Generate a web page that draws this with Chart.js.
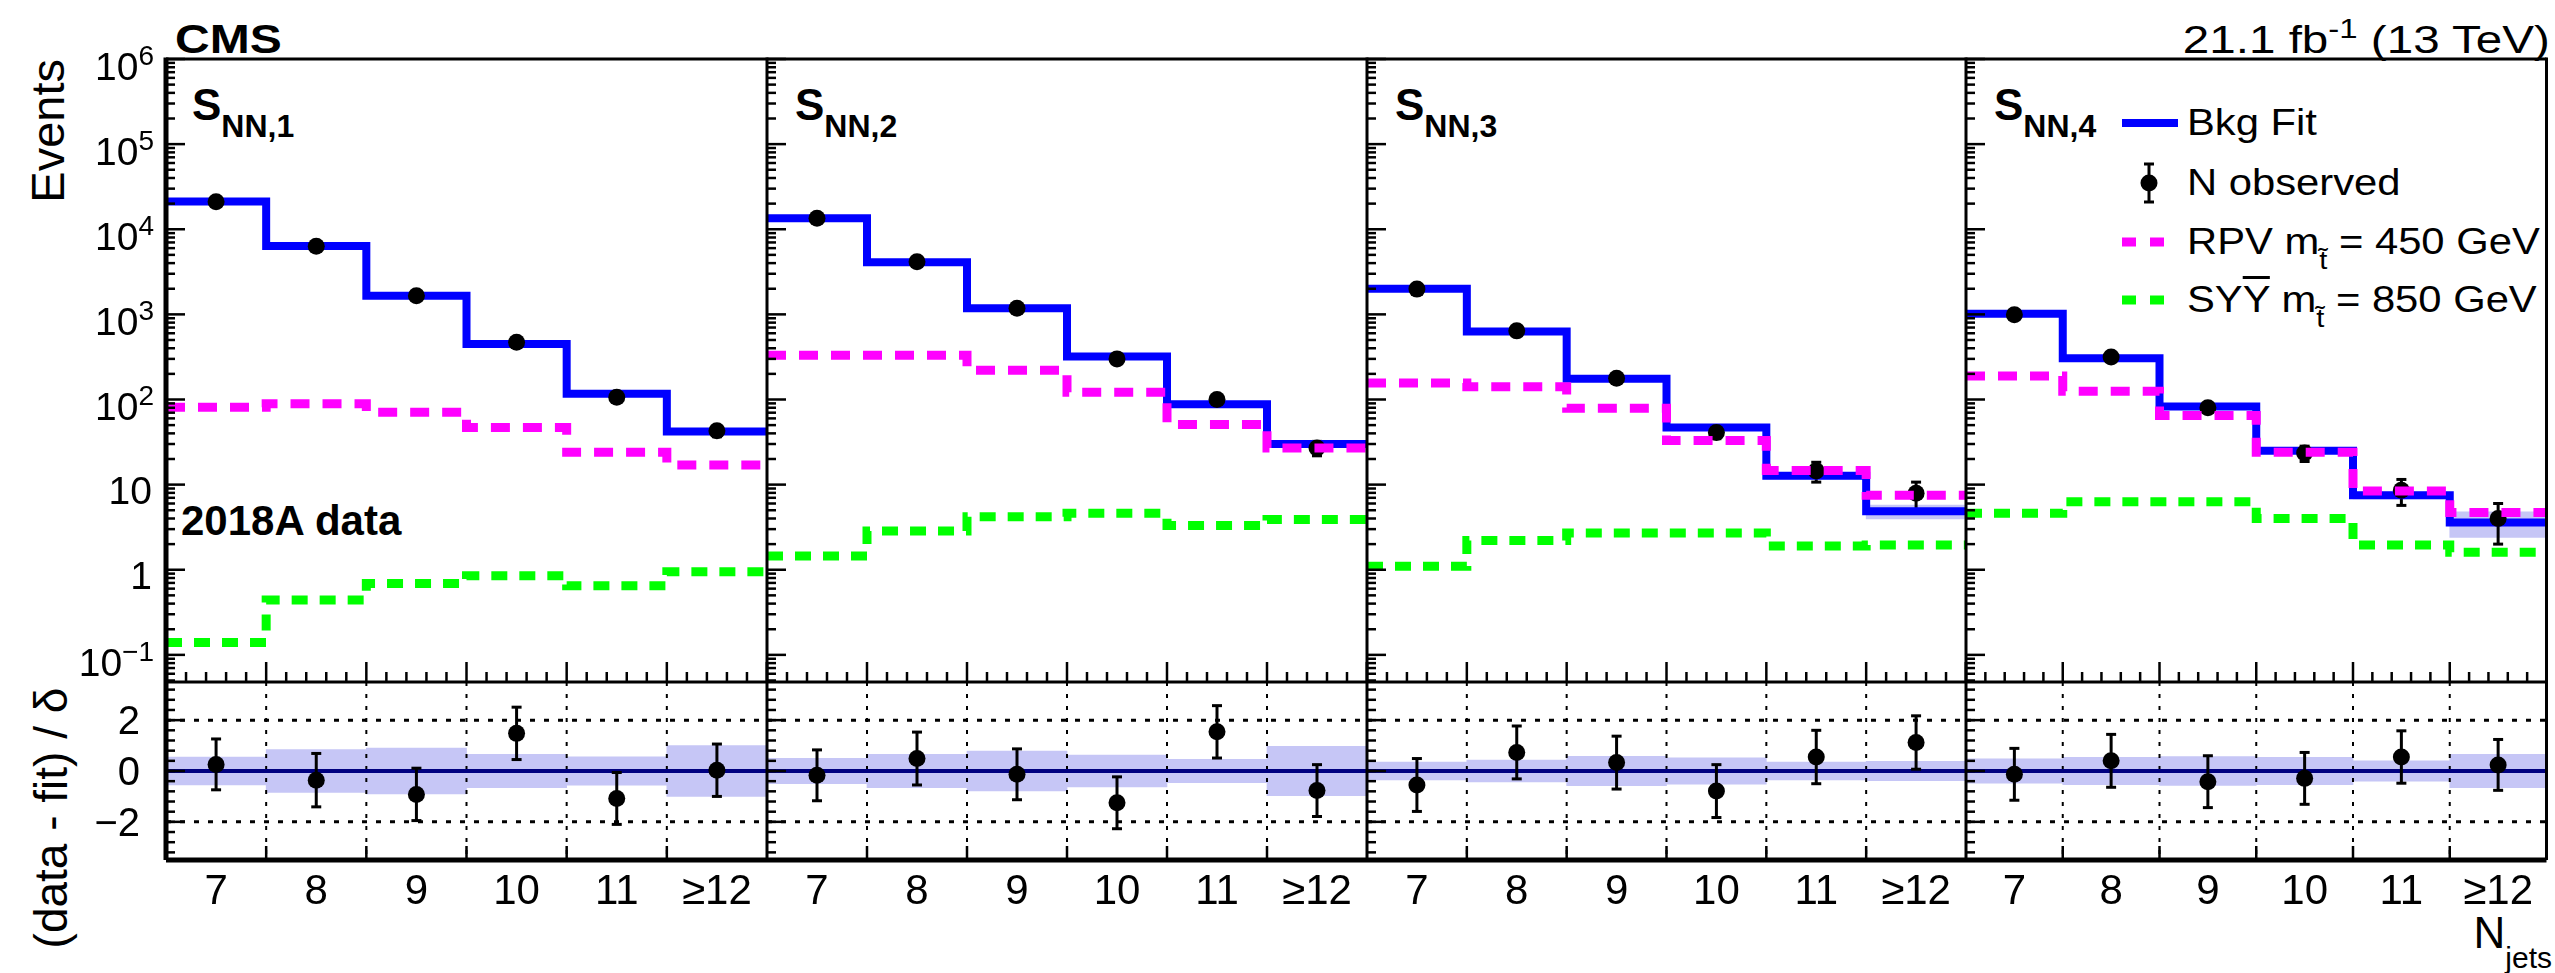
<!DOCTYPE html>
<html>
<head>
<meta charset="utf-8">
<title>S_NN fit, N_jets</title>
<script src="https://cdn.jsdelivr.net/npm/chart.js@4.4.1/dist/chart.umd.min.js"></script>
<style>
    body {
        margin: 0;
        width: 2555px;
        height: 973px;
        overflow: hidden;
        position: relative;
        background: #fff;
        font-family: "Liberation Sans", Arial, Helvetica, sans-serif;
        color: #000;
    }
    canvas { position: absolute; left: 0; top: 0; }
    .t { position: absolute; white-space: nowrap; line-height: 1; }
    .b { font-weight: bold; }
    .sub { position: relative; }
    .rot { transform-origin: 0 0; }
    .wide { transform: scaleX(1.2); transform-origin: 0 0; }
    .legend { transform: scaleX(1.16); transform-origin: 0 0; }
    .wide-r { transform: scaleX(1.22); transform-origin: 100% 0; }
</style>
</head>
<body>

<div class="t b wide" style="left:175px; top:19px; font-size:40px;">CMS</div>
<div class="t wide-r" style="right:5px; top:20px; font-size:39px;">21.1 fb<span class="sub" style="font-size:27px; top:-15px;">-1</span> (13 TeV)</div>

<div class="t b" style="left:192px; top:83px; font-size:44px;">S<span class="sub" style="font-size:32px; top:17px;">NN,1</span></div>
<div class="t b" style="left:795px; top:83px; font-size:44px;">S<span class="sub" style="font-size:32px; top:17px;">NN,2</span></div>
<div class="t b" style="left:1395px; top:83px; font-size:44px;">S<span class="sub" style="font-size:32px; top:17px;">NN,3</span></div>
<div class="t b" style="left:1994px; top:83px; font-size:44px;">S<span class="sub" style="font-size:32px; top:17px;">NN,4</span></div>

<div class="t b" style="left:181px; top:500px; font-size:42px;">2018A data</div>

<div class="t legend" style="left:2187px; top:105px; font-size:36px;">Bkg Fit</div>
<div class="t legend" style="left:2187px; top:165px; font-size:36px;">N observed</div>
<div class="t legend" style="left:2187px; top:224px; font-size:36px;">RPV m<span class="sub" style="font-size:25px; top:15px;">t&#771;</span> = 450 GeV</div>
<div class="t legend" style="left:2187px; top:282px; font-size:36px;">SY<span style="text-decoration:overline;">Y</span> m<span class="sub" style="font-size:25px; top:15px;">t&#771;</span> = 850 GeV</div>

<div class="t rot" style="left:24px; top:59px; font-size:47px; transform: rotate(-90deg) translateX(-100%);">Events</div>
<div class="t rot" style="left:28px; top:818px; font-size:46px; transform: rotate(-90deg) translateX(-50%);">(data - fit) / &delta;</div>

<div class="t" style="right:3px; top:911px; font-size:44px;">N<span class="sub" style="font-size:30px; top:20px;">jets</span></div>

<script>
// ---- data ----
const nJetLabels = ['7', '8', '9', '10', '11', '≥12'];
const binCenters = [7, 8, 9, 10, 11, 12];
const yTickExp = [-1, 0, 1, 2, 3, 4, 5, 6];
const ratioTicks = [2, 0, -2];

// S_NN,1
const fit1 = [21200, 6350, 1650, 450, 117, 42];
const fitErr1 = [300, 120, 45, 15, 5, 3];
const obs1 = [21000, 6300, 1650, 470, 106, 43];
const obsErr1 = [145, 80, 41, 22, 10, 6.5];
const rpv1 = [81, 89, 71, 47, 24, 17];
const syy1 = [0.14, 0.44, 0.69, 0.85, 0.65, 0.95];
const pull1 = [0.26, -0.36, -0.92, 1.48, -1.08, 0.03];
const pullErr1 = [1.0, 1.05, 1.03, 1.03, 1.02, 1.03];
const band1 = [0.55, 0.84, 0.9, 0.66, 0.56, 1.0];

// S_NN,2
const fit2 = [13500, 4100, 1180, 320, 88, 30];
const fitErr2 = [200, 80, 30, 10, 3.5, 2];
const obs2 = [13500, 4150, 1180, 300, 100, 27];
const obsErr2 = [116, 64, 34, 17, 10, 5.2];
const rpv2 = [330, 330, 220, 122, 51, 27];
const syy2 = [1.45, 2.85, 4.2, 4.6, 3.3, 3.9];
const pull2 = [-0.17, 0.49, -0.13, -1.25, 1.54, -0.77];
const pullErr2 = [1.0, 1.04, 1.0, 1.02, 1.03, 1.02];
const band2 = [0.5, 0.66, 0.78, 0.63, 0.46, 0.97];

// S_NN,3
const fit3 = [2000, 630, 175, 47, 12.7, 4.85];
const fitErr3 = [40, 15, 6, 2.5, 1, 0.9];
const obs3 = [1980, 640, 178, 41, 14.5, 7.9];
const obsErr3 = [45, 25, 13, 6.4, 3.8, 2.8];
const rpv3 = [156, 141, 79, 33, 14.7, 7.5];
const syy3 = [1.1, 2.2, 2.7, 2.7, 1.9, 1.95];
const pull3 = [-0.55, 0.73, 0.33, -0.79, 0.55, 1.12];
const pullErr3 = [1.04, 1.04, 1.04, 1.04, 1.05, 1.05];
const band3 = [0.35, 0.43, 0.58, 0.52, 0.35, 0.38];

// S_NN,4
const fit4 = [1020, 305, 83, 25, 7.5, 3.6];
const fitErr4 = [25, 9, 3, 1.5, 0.7, 1.2];
const obs4 = [990, 315, 80, 23.5, 8.6, 4.0];
const obsErr4 = [31, 18, 9, 4.8, 2.9, 2.0];
const rpv4 = [189, 125, 65, 24, 8.4, 4.7];
const syy4 = [4.6, 6.3, 6.3, 4.0, 1.95, 1.6];
const pull4 = [-0.13, 0.40, -0.42, -0.29, 0.55, 0.24];
const pullErr4 = [1.02, 1.04, 1.02, 1.02, 1.03, 1.0];
const band4 = [0.48, 0.54, 0.57, 0.54, 0.4, 0.66];

const panels = [
    { fit: fit1, fitErr: fitErr1, obs: obs1, obsErr: obsErr1, rpv: rpv1, syy: syy1, pull: pull1, pullErr: pullErr1, band: band1 },
    { fit: fit2, fitErr: fitErr2, obs: obs2, obsErr: obsErr2, rpv: rpv2, syy: syy2, pull: pull2, pullErr: pullErr2, band: band2 },
    { fit: fit3, fitErr: fitErr3, obs: obs3, obsErr: obsErr3, rpv: rpv3, syy: syy3, pull: pull3, pullErr: pullErr3, band: band3 },
    { fit: fit4, fitErr: fitErr4, obs: obs4, obsErr: obsErr4, rpv: rpv4, syy: syy4, pull: pull4, pullErr: pullErr4, band: band4 }
];

// ---- layout ----
const W = 2555, H = 973;
const panelX = [166, 767, 1367, 1966, 2553];
const mainTop = 59, mainBottom = 682, ratioBottom = 860;
const FONT = '"Liberation Sans", Arial, Helvetica, sans-serif';
const BLUE = '#0000ff', MAGENTA = '#ff00ff', GREEN = '#00ff00';
const BAND = '#c6c6f6';

const binEdges = binCenters.slice(1).map(c => c - 0.5);
const xMin = binCenters[0] - 0.5, xMax = binCenters[binCenters.length - 1] + 0.5;

const steps = vals => vals.map((v, k) => ({ x: binCenters[k] - 0.5, y: v }))
    .concat([{ x: xMax, y: vals[vals.length - 1] }]);
const pts = vals => vals.map((v, k) => ({ x: binCenters[k], y: v }));
const ranges = (vals, errs) => vals.map((v, k) => ({ x: binCenters[k], y: [v - errs[k], v + errs[k]] }));

function makeCanvas() {
    const c = document.createElement('canvas');
    c.width = W;
    c.height = H;
    document.body.appendChild(c);
    return c;
}

function line(ctx, x1, y1, x2, y2) {
    ctx.beginPath();
    ctx.moveTo(x1, y1);
    ctx.lineTo(x2, y2);
    ctx.stroke();
}

function errorBars(ctx, x, y, vals, errs) {
    ctx.save();
    ctx.strokeStyle = '#000';
    ctx.lineWidth = 3;
    vals.forEach((v, k) => {
        const px = x.getPixelForValue(binCenters[k]);
        const y1 = y.getPixelForValue(v - errs[k]);
        const y2 = y.getPixelForValue(v + errs[k]);
        line(ctx, px, y1, px, y2);
        line(ctx, px - 5, y1, px + 5, y1);
        line(ctx, px - 5, y2, px + 5, y2);
    });
    ctx.restore();
}

const baseOptions = (i, top, bottom) => ({
    responsive: false,
    animation: false,
    devicePixelRatio: 1,
    events: [],
    layout: { padding: { left: panelX[i], right: W - panelX[i + 1], top: top, bottom: H - bottom } },
    plugins: { legend: { display: false }, tooltip: { enabled: false } }
});

// the bar datasets would otherwise switch on offset for the x axis
const xScale = { type: 'linear', min: xMin, max: xMax, offset: false, display: false };

// band drawn as full-width floating bars
const bandSet = (data, order) => ({
    type: 'bar', data: data, backgroundColor: BAND, borderWidth: 0,
    barThickness: 'flex', barPercentage: 1, categoryPercentage: 1, order: order
});

// upper panel decorations: frame, ticks, labels, data error bars
function mainPanelPlugin(p, i) {
    return {
        id: 'mainPanel' + i,
        afterDatasetDraw(chart, args) {
            if (args.index !== 0) return;
            errorBars(chart.ctx, chart.scales.x, chart.scales.y, p.obs, p.obsErr);
        },
        afterDraw(chart) {
            const { ctx, chartArea: a, scales: { x, y } } = chart;
            ctx.save();
            ctx.strokeStyle = '#000';
            ctx.lineWidth = i === 0 ? 5 : 3;
            line(ctx, a.left, a.top - 1.5, a.left, a.bottom);
            ctx.lineWidth = 3;
            line(ctx, a.left, a.top, a.right, a.top);
            if (i === 3) line(ctx, a.right, a.top - 1.5, a.right, a.bottom);

            // log ticks on the left edge
            ctx.lineWidth = 2.5;
            for (let d = -2; d <= 6; d++) {
                for (let m = 1; m <= 9; m++) {
                    const v = m * Math.pow(10, d);
                    if (v < y.min || v > y.max) continue;
                    const py = y.getPixelForValue(v);
                    line(ctx, a.left, py, a.left + (m === 1 ? 19 : 9), py);
                }
            }
            // N_jets ticks along the bottom
            for (let k = 0; k <= 30; k++) {
                const px = x.getPixelForValue(xMin + k * 0.2);
                line(ctx, px, a.bottom, px, a.bottom - (k % 5 === 0 ? 20 : 10));
            }

            if (i === 0) {
                ctx.fillStyle = '#000';
                ctx.textAlign = 'right';
                ctx.textBaseline = 'alphabetic';
                yTickExp.forEach(e => {
                    const py = y.getPixelForValue(Math.pow(10, e));
                    if (e === 0 || e === 1) {
                        ctx.font = `39px ${FONT}`;
                        ctx.fillText(e === 0 ? '1' : '10', 152, py + 19);
                    } else {
                        const sup = e < 0 ? '\u2212' + (-e) : String(e);
                        ctx.font = `28px ${FONT}`;
                        const sw = ctx.measureText(sup).width;
                        ctx.fillText(sup, 154, py + 6);
                        ctx.font = `39px ${FONT}`;
                        ctx.fillText('10', 154 - sw, py + 21);
                    }
                });
            }

            if (i === 3) {
                // legend swatches
                ctx.strokeStyle = BLUE;
                ctx.lineWidth = 8;
                line(ctx, 2122, 123, 2178, 123);
                ctx.strokeStyle = '#000';
                ctx.lineWidth = 3;
                line(ctx, 2149, 164, 2149, 202);
                line(ctx, 2144, 164, 2154, 164);
                line(ctx, 2144, 202, 2154, 202);
                ctx.fillStyle = '#000';
                ctx.beginPath();
                ctx.arc(2149, 183, 8.5, 0, Math.PI * 2);
                ctx.fill();
                ctx.lineWidth = 9;
                ctx.setLineDash([14, 14]);
                ctx.strokeStyle = MAGENTA;
                line(ctx, 2122, 242, 2164, 242);
                ctx.strokeStyle = GREEN;
                line(ctx, 2122, 300, 2164, 300);
                ctx.setLineDash([]);
            }
            ctx.restore();
        }
    };
}

// lower panel decorations: grid, zero line, pull error bars, frame, labels
function ratioPanelPlugin(p, i) {
    return {
        id: 'ratioPanel' + i,
        afterDatasetDraw(chart, args) {
            if (args.index !== 0) return;
            const { ctx, chartArea: a, scales: { x, y } } = chart;
            ctx.save();
            ctx.strokeStyle = '#000';
            ctx.lineWidth = 2;
            ctx.setLineDash([4, 8]);
            binEdges.forEach(e => {
                const px = x.getPixelForValue(e);
                line(ctx, px, a.top, px, a.bottom);
            });
            ctx.lineWidth = 3;
            ctx.setLineDash([5, 9]);
            [2, -2].forEach(v => {
                const py = y.getPixelForValue(v);
                line(ctx, a.left, py, a.right, py);
            });
            ctx.setLineDash([]);
            ctx.strokeStyle = '#000080';
            ctx.lineWidth = 4;
            const y0 = y.getPixelForValue(0);
            line(ctx, a.left, y0, a.right, y0);
            ctx.restore();
            errorBars(ctx, x, y, p.pull, p.pullErr);
        },
        afterDraw(chart) {
            const { ctx, chartArea: a, scales: { x, y } } = chart;
            ctx.save();
            ctx.strokeStyle = '#000';
            ctx.lineWidth = 3;
            line(ctx, a.left, a.top, a.right, a.top);
            ctx.lineWidth = 5;
            line(ctx, a.left, a.bottom, a.right, a.bottom);
            ctx.lineWidth = i === 0 ? 5 : 3;
            line(ctx, a.left, a.top, a.left, a.bottom);
            if (i === 3) line(ctx, a.right, a.top, a.right, a.bottom);

            ctx.lineWidth = 2.5;
            for (let k = -9; k <= 9; k++) {
                const v = k * 0.4;
                if (v < y.min || v > y.max) continue;
                const py = y.getPixelForValue(v);
                line(ctx, a.left, py, a.left + 9, py);
            }
            ratioTicks.forEach(v => {
                const py = y.getPixelForValue(v);
                line(ctx, a.left, py, a.left + 19, py);
            });
            binEdges.forEach(e => {
                const px = x.getPixelForValue(e);
                line(ctx, px, a.bottom, px, a.bottom - 14);
            });

            ctx.fillStyle = '#000';
            ctx.textBaseline = 'alphabetic';
            ctx.font = `42px ${FONT}`;
            ctx.textAlign = 'center';
            nJetLabels.forEach((lab, k) => {
                ctx.fillText(lab, x.getPixelForValue(binCenters[k]), 904);
            });
            if (i === 0) {
                ctx.font = `40px ${FONT}`;
                ctx.textAlign = 'right';
                ratioTicks.forEach(v => {
                    const lab = v < 0 ? '\u2212' + (-v) : String(v);
                    ctx.fillText(lab, 140, y.getPixelForValue(v) + 14);
                });
            }
            ctx.restore();
        }
    };
}

panels.forEach((p, i) => {
    // upper panel: fit, observed, signals
    new Chart(makeCanvas(), {
        type: 'line',
        data: {
            datasets: [
                bandSet(ranges(p.fit, p.fitErr), 6),
                { data: steps(p.fit), borderColor: BLUE, borderWidth: 8, stepped: true,
                  pointRadius: 0, clip: false, order: 5 },
                { data: pts(p.obs), showLine: false, pointRadius: 8.5, pointBackgroundColor: '#000',
                  pointBorderWidth: 0, clip: false, order: 4 },
                { data: steps(p.rpv), borderColor: MAGENTA, borderWidth: 9, borderDash: [19, 13],
                  stepped: true, pointRadius: 0, clip: false, order: 3 },
                { data: steps(p.syy), borderColor: GREEN, borderWidth: 9, borderDash: [16, 12],
                  stepped: true, pointRadius: 0, clip: false, order: 2 }
            ]
        },
        options: Object.assign(baseOptions(i, mainTop, mainBottom), {
            scales: {
                x: xScale,
                y: { type: 'logarithmic', min: 0.048, max: 1e6, display: false }
            }
        }),
        plugins: [mainPanelPlugin(p, i)]
    });

    // lower panel: (data - fit) / delta
    new Chart(makeCanvas(), {
        type: 'line',
        data: {
            datasets: [
                bandSet(ranges(p.band.map(() => 0), p.band), 3),
                { data: pts(p.pull), showLine: false, pointRadius: 8.5, pointBackgroundColor: '#000',
                  pointBorderWidth: 0, clip: false, order: 1 }
            ]
        },
        options: Object.assign(baseOptions(i, mainBottom, ratioBottom), {
            scales: {
                x: xScale,
                y: { type: 'linear', min: -3.5, max: 3.5, display: false }
            }
        }),
        plugins: [ratioPanelPlugin(p, i)]
    });
});
</script>
</body>
</html>
